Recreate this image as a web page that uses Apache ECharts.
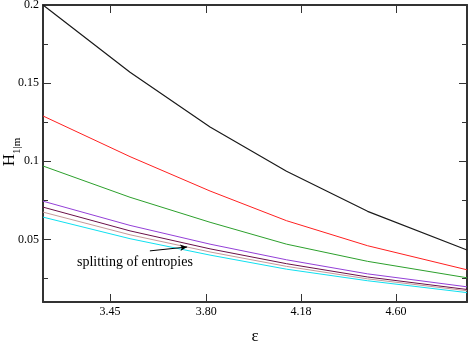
<!DOCTYPE html>
<html lang="en">
<head>
    <meta charset="UTF-8">
    <title>H 1|m vs epsilon</title>
    <style>
        html, body { margin: 0; padding: 0; background: #fff; }
        #main { width: 469px; height: 342px; }
    </style>
</head>
<body>
<div id="main"></div>
<script src="https://cdn.jsdelivr.net/npm/echarts@6/dist/echarts.min.js"></script>
<script>
    // epsilon values of the points (x axis is logarithmic)
    var eps = [3.225, 3.52, 3.815, 4.12, 4.47, 4.94];
    var xTicks = [3.45, 3.80, 4.18, 4.60];
    var yTicks = [0.05, 0.1, 0.15, 0.2];
    var yMinor = [0.025, 0.075, 0.125, 0.175];

    // H_1|m curves
    var hBlack  = [0.200, 0.157, 0.122, 0.0936, 0.068, 0.0433];
    var hRed    = [0.129, 0.103, 0.081, 0.062, 0.046, 0.0306];
    var hGreen  = [0.097, 0.077, 0.061, 0.047, 0.036, 0.0255];
    var hViolet = [0.0745, 0.059, 0.047, 0.037, 0.028, 0.0197];
    var hMaroon = [0.0707, 0.0555, 0.044, 0.0345, 0.026, 0.018];
    var hBrown  = [0.0675, 0.053, 0.042, 0.0328, 0.0248, 0.0172];
    var hCyan   = [0.0643, 0.0505, 0.040, 0.031, 0.0236, 0.016];

    // arrow of the annotation: [eps, H]
    var arrowFrom = [3.591, 0.0427];
    var arrowTo = [3.728, 0.0452];

    var font = "'Liberation Serif', 'Times New Roman', serif";
    var axisCol = '#333';

    function pts(arr) {
        var out = [];
        for (var i = 0; i < arr.length; i++) {
            out.push([Math.log(eps[i]), arr[i]]);
        }
        return out;
    }
    function line(name, arr, color, w) {
        return {
            name: name,
            type: 'line',
            data: pts(arr),
            showSymbol: false,
            smooth: false,
            lineStyle: { color: color, width: w || 1 },
            itemStyle: { color: color },
            silent: true
        };
    }

    var xMin = Math.log(eps[0]);
    var xMax = Math.log(eps[eps.length - 1]);
    var xLog = xTicks.map(function (v) { return Math.log(v); });

    function xAxis(pos, labels) {
        return {
            type: 'value', position: pos, min: xMin, max: xMax,
            splitLine: { show: false },
            axisLine: { show: true, onZero: false, lineStyle: { color: axisCol, width: 2 } },
            axisTick: { show: true, inside: true, length: 8, customValues: xLog, lineStyle: { color: axisCol, width: 1 } },
            axisLabel: {
                show: labels, customValues: xLog, margin: 4,
                fontFamily: font, fontSize: 12, color: '#000',
                formatter: function (v) { return Math.exp(v).toFixed(2); }
            },
            name: labels ? 'ε' : '',
            nameLocation: 'middle', nameGap: 26,
            nameTextStyle: { fontFamily: font, fontSize: 17, color: '#000' }
        };
    }
    function yAxis(pos, ticks, len, labels, showLine) {
        return {
            type: 'value', position: pos, min: 0.01, max: 0.2,
            splitLine: { show: false },
            axisLine: { show: showLine, onZero: false, lineStyle: { color: axisCol, width: 2 } },
            axisTick: { show: true, inside: true, length: len, customValues: ticks, lineStyle: { color: axisCol, width: 1 } },
            axisLabel: {
                show: labels, customValues: ticks, margin: 4,
                fontFamily: font, fontSize: 12, color: '#000',
                formatter: function (v) { return String(+v.toFixed(3)); }
            }
        };
    }

    var series = [
        line('black', hBlack, '#1a1a1a', 1.2),
        line('red', hRed, '#ff2020'),
        line('green', hGreen, '#2ca02c'),
        line('violet', hViolet, '#9440d8'),
        line('maroon', hMaroon, '#6a1048'),
        line('brown', hBrown, '#c49a9a'),
        line('cyan', hCyan, '#10e0f0')
    ];
    series[0].markLine = {
        silent: true,
        symbol: ['none', 'arrow'],
        symbolSize: [5, 7],
        label: { show: false },
        lineStyle: { color: '#000', width: 1, type: 'solid' },
        data: [[
            { coord: [Math.log(arrowFrom[0]), arrowFrom[1]] },
            { coord: [Math.log(arrowTo[0]), arrowTo[1]] }
        ]]
    };

    var myChart = echarts.init(document.getElementById('main'));
    var option = {
        animation: false,
        backgroundColor: '#fff',
        grid: { left: 43, right: 2, top: 5, bottom: 40, outerBoundsMode: 'none' },
        xAxis: [xAxis('bottom', true), xAxis('top', false)],
        yAxis: [
            yAxis('left', yTicks, 8, true, true),
            yAxis('right', yTicks, 8, false, true),
            yAxis('left', yMinor, 5, false, false),
            yAxis('right', yMinor, 5, false, false)
        ],
        graphic: [{
            type: 'text', left: 77, top: 255,
            style: { text: 'splitting of entropies', fontFamily: font, fontSize: 14, fill: '#000' }
        }, {
            type: 'text', x: 12, y: 152, rotation: Math.PI / 2,
            style: {
                text: '{h|H}{s|1|m}', align: 'center', verticalAlign: 'middle',
                fontFamily: font, fill: '#000',
                rich: {
                    h: { fontFamily: font, fontSize: 17, padding: [0, 0, 5, 0], verticalAlign: 'bottom' },
                    s: { fontFamily: font, fontSize: 11, verticalAlign: 'bottom' }
                }
            }
        }],
        series: series
    };
    myChart.setOption(option);
</script>
</body>
</html>
